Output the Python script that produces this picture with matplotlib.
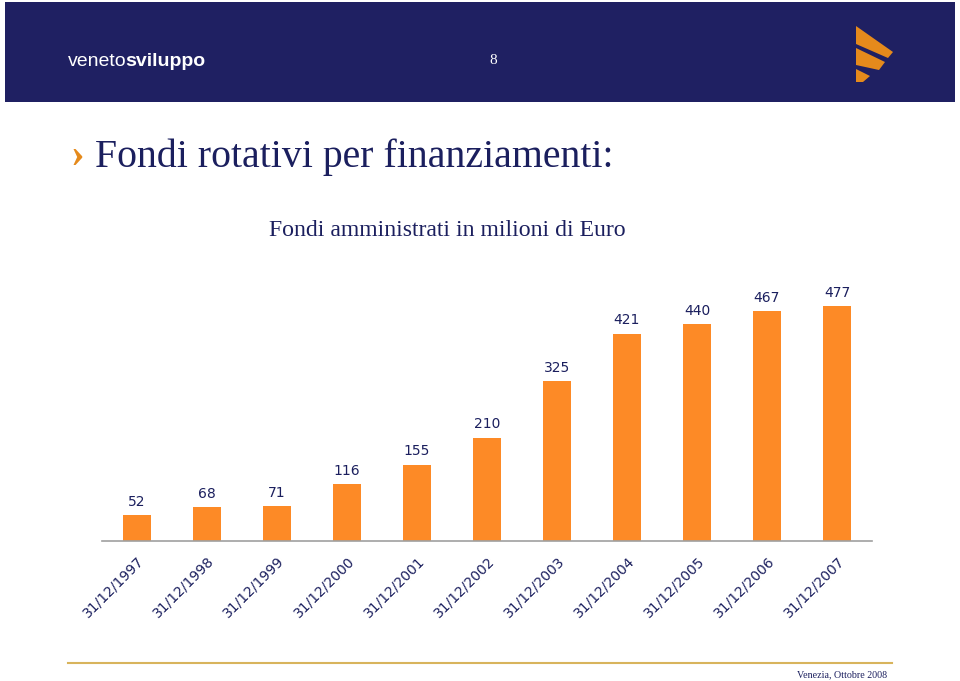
import matplotlib
matplotlib.use("Agg")
import matplotlib.pyplot as plt
from matplotlib.patches import Rectangle, Polygon

# Data
dates = ["31/12/1997", "31/12/1998", "31/12/1999", "31/12/2000", "31/12/2001",
         "31/12/2002", "31/12/2003", "31/12/2004", "31/12/2005", "31/12/2006",
         "31/12/2007"]
values = [52, 68, 71, 116, 155, 210, 325, 421, 440, 467, 477]

NAVY = "#1f2062"
ORANGE = "#fd8a26"
TEXT = "#1b1f5e"


def main():
    W, H = 960, 681
    fig = plt.figure(figsize=(W / 100, H / 100), dpi=100)
    fig.patch.set_facecolor("white")

    # background layer in pixel coordinates
    bg = fig.add_axes([0, 0, 1, 1], zorder=0)
    bg.set_xlim(0, W)
    bg.set_ylim(H, 0)
    bg.axis("off")

    # header band
    bg.add_patch(Rectangle((5, 2), 950, 100, facecolor=NAVY, edgecolor="none"))
    t1 = bg.text(68, 61, "veneto", color="white", fontsize=14,
                 family="Liberation Sans", va="center", ha="left")
    bg.annotate("sviluppo", xy=(1, 0.5), xycoords=t1, xytext=(-1, 0),
                textcoords="offset points", color="white",
                fontsize=14, fontweight="bold", family="Liberation Sans",
                va="center", ha="left")
    bg.text(493, 60, "8", color="white", fontsize=11, family="Liberation Serif",
            va="center", ha="center")
    logo_col = "#e58a1c"
    bg.add_patch(Polygon([(856, 26), (893, 52), (888, 58), (856, 44)],
                         closed=True, facecolor=logo_col, edgecolor="none"))
    bg.add_patch(Polygon([(856, 48), (885, 62), (879, 70), (856, 65)],
                         closed=True, facecolor=logo_col, edgecolor="none"))
    bg.add_patch(Polygon([(856, 69), (870, 76), (863, 82), (856, 82)],
                         closed=True, facecolor=logo_col, edgecolor="none"))

    # titles
    bg.text(70, 157, "\u203a", color="#e58a1c", fontsize=30, fontweight="bold",
            family="Liberation Serif", va="center", ha="left")
    bg.text(95, 157, "Fondi rotativi per finanziamenti:", color=TEXT,
            fontsize=28.6, family="Liberation Serif", va="center", ha="left")
    bg.text(447, 231, "Fondi amministrati in milioni di Euro", color=TEXT,
            fontsize=17.1, family="Liberation Serif", va="center", ha="center")

    # footer
    bg.plot([68, 892], [663, 663], color="#d8b45c", lw=1.5)
    bg.text(887, 675, "Venezia, Ottobre 2008", color=TEXT, fontsize=7.2,
            family="Liberation Serif", va="center", ha="right")

    # chart
    left, right = 102, 872
    base, top = 541, 270
    ax = fig.add_axes([left / W, 1 - base / H, (right - left) / W, (base - top) / H],
                      zorder=1)
    ax.patch.set_alpha(0)
    x = list(range(len(values)))
    bars = ax.bar(x, values, width=0.4, color=ORANGE, zorder=2)
    ax.set_xlim(-0.5, len(values) - 0.5)
    ax.set_ylim(0, 550)

    for b, v in zip(bars, values):
        ax.annotate(str(v), (b.get_x() + b.get_width() / 2, v),
                    xytext=(0, 4.5), textcoords="offset points",
                    ha="center", va="bottom", fontsize=10, color=TEXT,
                    family="DejaVu Sans")

    for s in ["top", "right", "left"]:
        ax.spines[s].set_visible(False)
    ax.spines["bottom"].set_color("#a0a0a0")
    ax.spines["bottom"].set_linewidth(1.2)
    ax.set_yticks([])
    ax.set_xticks(x)
    ax.set_xticklabels(dates, rotation=45, ha="right", rotation_mode="anchor",
                       fontsize=10, color=TEXT)
    ax.tick_params(axis="x", length=0, pad=9)

    fig.savefig("out.png", dpi=100)


if __name__ == "__main__":
    main()
